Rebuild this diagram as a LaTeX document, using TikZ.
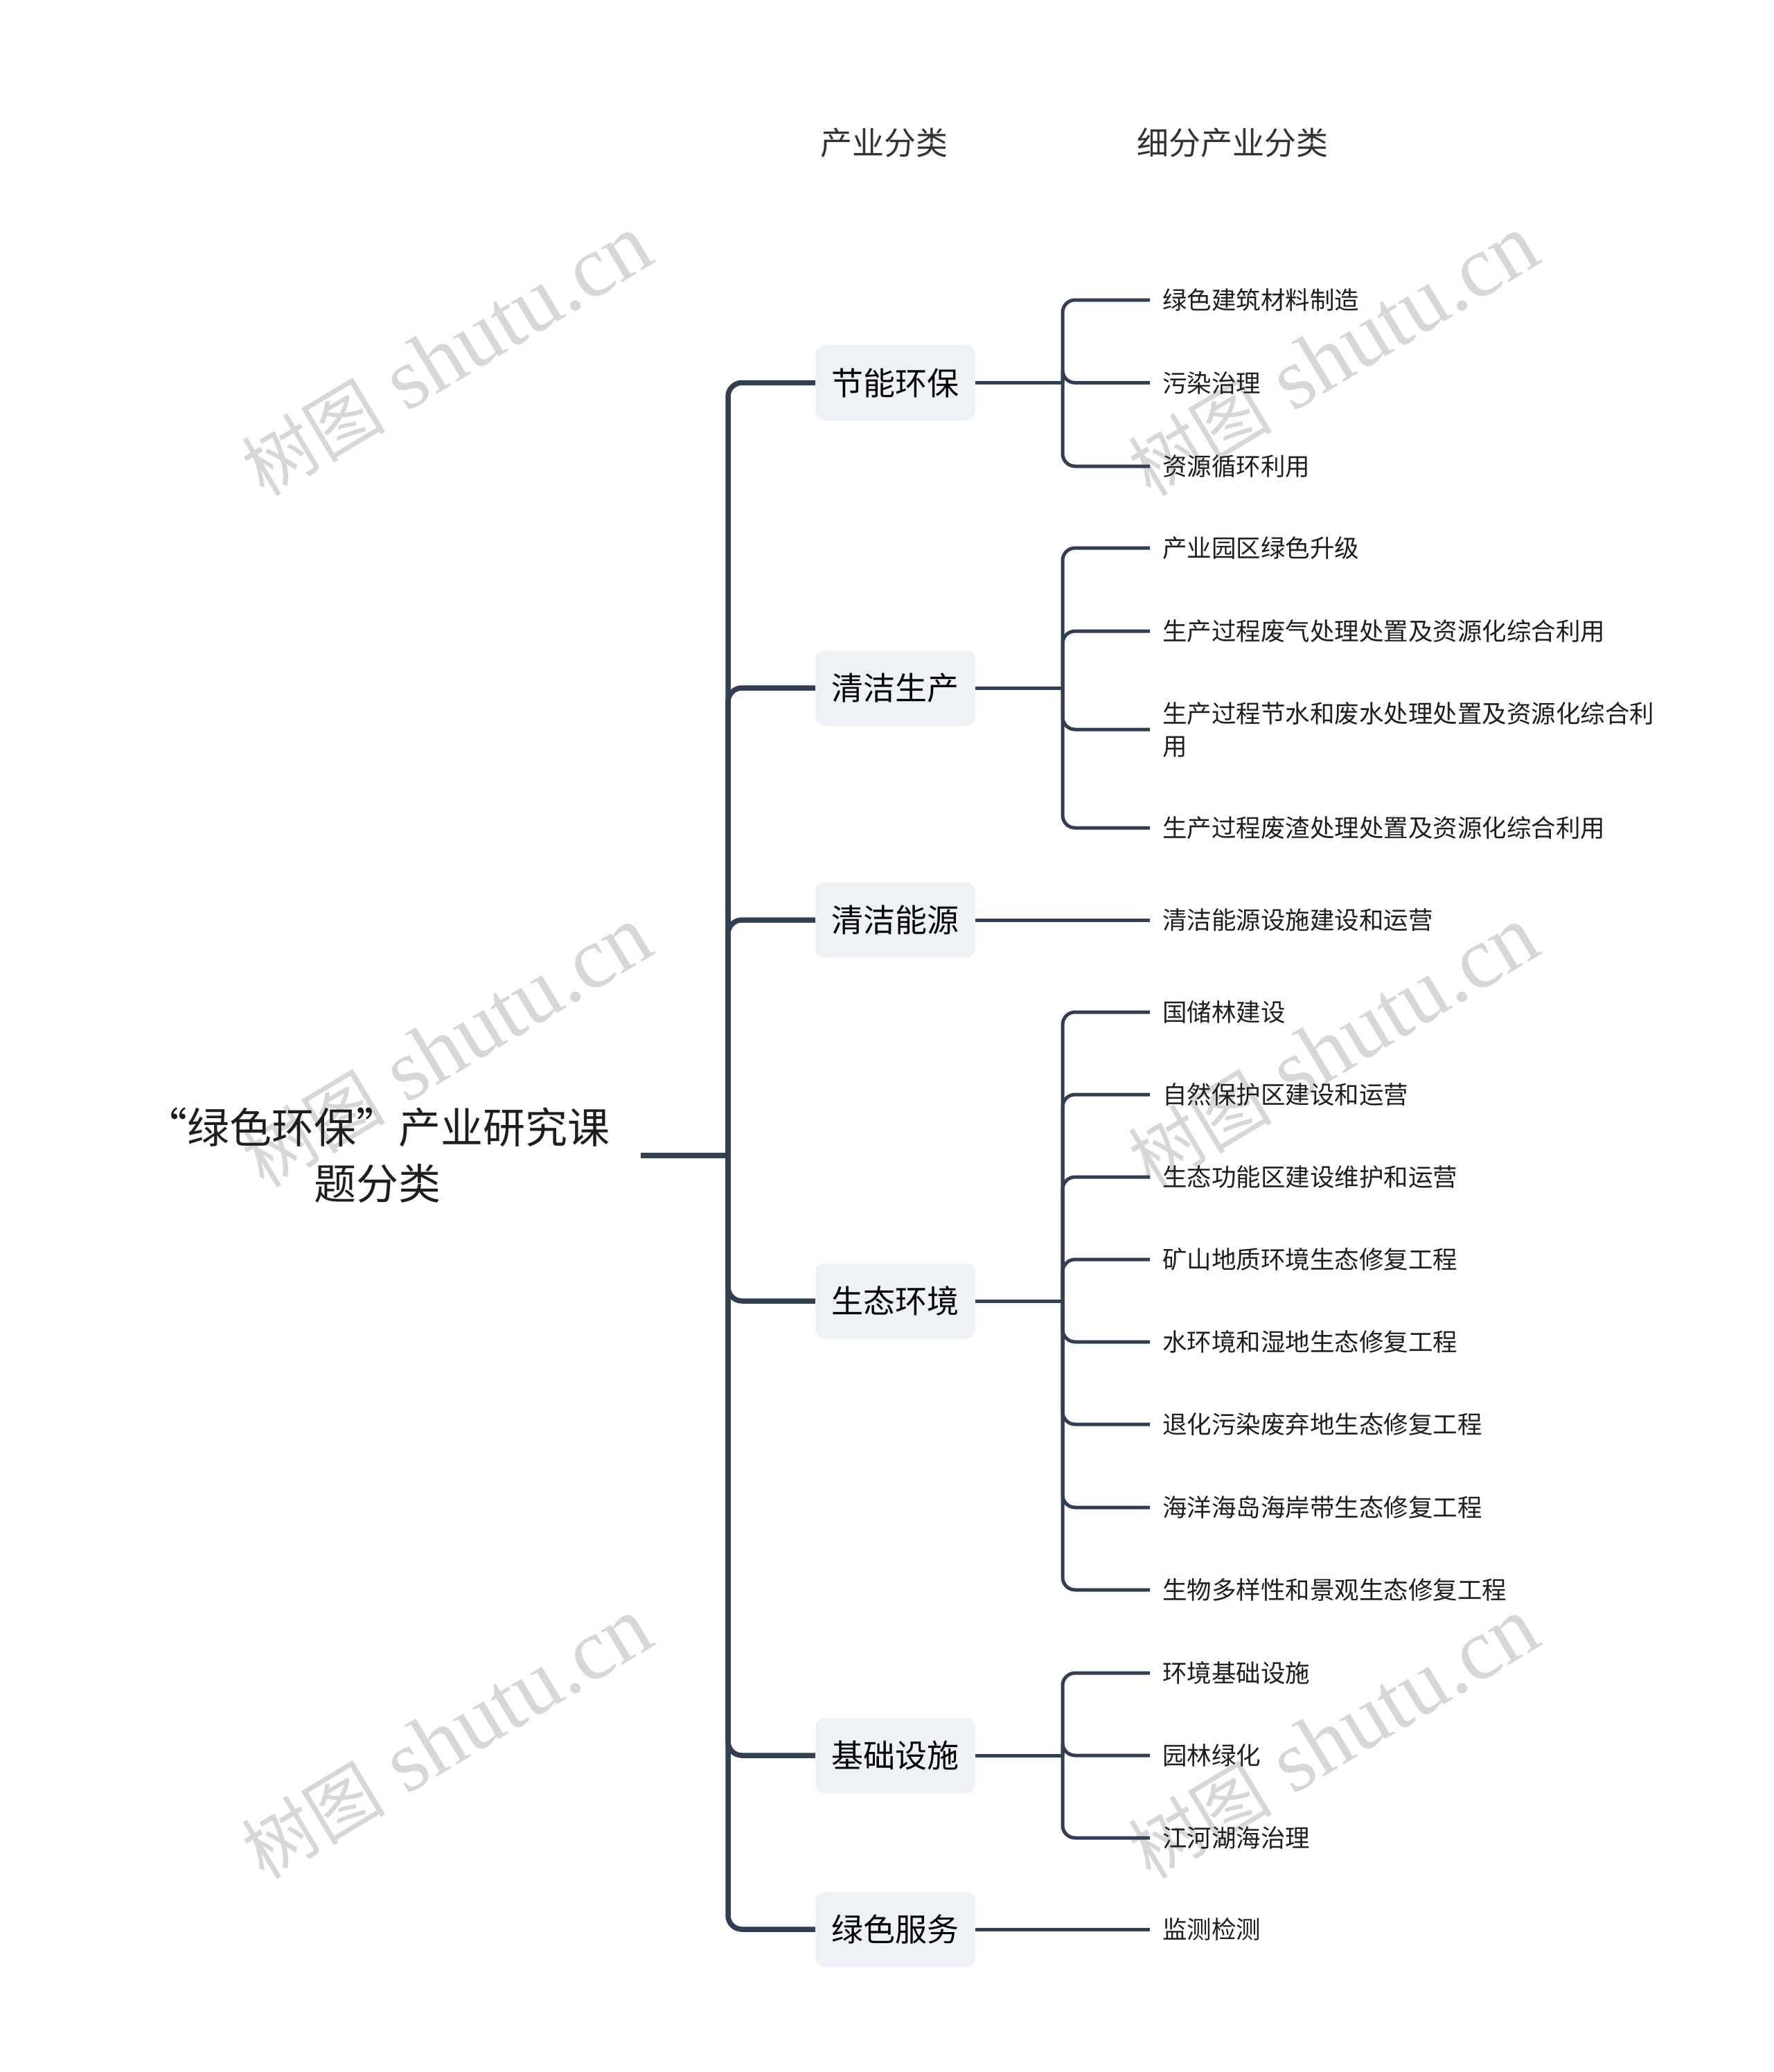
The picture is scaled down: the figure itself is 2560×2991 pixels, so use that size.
\documentclass[tikz,border=0pt]{standalone}
\usepackage{fontspec}
\setmainfont{Noto Sans CJK SC}
\newfontfamily\wmlat{Liberation Serif}
\newfontfamily\wmcjk{Noto Sans CJK SC}
\definecolor{linecol}{HTML}{323F52}
\definecolor{boxfill}{HTML}{EEF1F5}
\definecolor{wmgray}{HTML}{D7D7D7}
\definecolor{txtdark}{HTML}{1E1E1E}
\definecolor{hdrcol}{HTML}{333333}
\begin{document}
\begin{tikzpicture}[x=1pt,y=-1pt,
  trunk/.style={draw=linecol,line width=7.5pt},
  leafline/.style={draw=linecol,line width=5pt},
  branchbox/.style={fill=boxfill,rounded corners=14pt,minimum width=231pt,minimum height=109pt,inner sep=0pt,text=black,font=\fontsize{46}{55}\selectfont},
  leafnode/.style={anchor=west,inner xsep=18pt,inner ysep=0pt,text=txtdark,align=left,font=\fontsize{35.5}{47}\selectfont},
  hdr/.style={text=hdrcol,inner sep=0pt,font=\fontsize{46}{55}\selectfont},
  wm/.style={text=wmgray,inner sep=0pt,rotate=31}
]
\fill[white] (0,0) rectangle (2560,2991);
\path[use as bounding box] (0,0) rectangle (2560,2991);

% watermarks
\foreach \wx/\wy [count=\i] in {645/514,1925/514,645/1512,1925/1512,645/2510,1925/2510}{
  \node[wm] (wm\i) at (\wx,\wy) {\fontsize{104}{110}\wmcjk 树图\fontsize{126}{130}\wmlat\ shutu.cn};
}

% headers
\node[hdr] (h1) at (1276,206) {产业分类};
\node[hdr] (h2) at (1779,206) {细分产业分类};

% root
\node[align=center,inner sep=0pt,minimum width=760pt,text=txtdark,font=\fontsize{61}{81}\selectfont] (root) at (545,1668) {“绿色环保”产业研究课\\题分类};
\coordinate (hub) at (1051,1668);
\draw[trunk] (root.east) -- (hub);

% branches
\node[branchbox] (b1) at (1292.5,552.5) {节能环保};
\node[branchbox] (b2) at (1292.5,993) {清洁生产};
\node[branchbox] (b3) at (1292.5,1328) {清洁能源};
\node[branchbox] (b4) at (1292.5,1878) {生态环境};
\node[branchbox] (b5) at (1292.5,2534) {基础设施};
\node[branchbox] (b6) at (1292.5,2785) {绿色服务};
\foreach \b in {b1,b2,b3,b4,b5,b6}{
  \draw[trunk,rounded corners=20pt] (hub) |- (\b.west);
}

% junctions
\coordinate (j1) at (1534,552.5);
\coordinate (j2) at (1534,993);
\coordinate (j4) at (1534,1878);
\coordinate (j5) at (1534,2534);

% leaves
\node[leafnode] (l11) at (1660,433) {绿色建筑材料制造};
\node[leafnode] (l12) at (1660,552.5) {污染治理};
\node[leafnode] (l13) at (1660,673) {资源循环利用};

\node[leafnode] (l21) at (1660,791) {产业园区绿色升级};
\node[leafnode] (l22) at (1660,911) {生产过程废气处理处置及资源化综合利用};
\node[leafnode] (l23) at (1660,1053) {生产过程节水和废水处理处置及资源化综合利\\用};
\node[leafnode] (l24) at (1660,1195) {生产过程废渣处理处置及资源化综合利用};

\node[leafnode] (l31) at (1660,1328) {清洁能源设施建设和运营};

\node[leafnode] (l41) at (1660,1461) {国储林建设};
\node[leafnode] (l42) at (1660,1580) {自然保护区建设和运营};
\node[leafnode] (l43) at (1660,1699) {生态功能区建设维护和运营};
\node[leafnode] (l44) at (1660,1818) {矿山地质环境生态修复工程};
\node[leafnode] (l45) at (1660,1937) {水环境和湿地生态修复工程};
\node[leafnode] (l46) at (1660,2056) {退化污染废弃地生态修复工程};
\node[leafnode] (l47) at (1660,2176) {海洋海岛海岸带生态修复工程};
\node[leafnode] (l48) at (1660,2295) {生物多样性和景观生态修复工程};

\node[leafnode] (l51) at (1660,2415) {环境基础设施};
\node[leafnode] (l52) at (1660,2534) {园林绿化};
\node[leafnode] (l53) at (1660,2653) {江河湖海治理};

\node[leafnode] (l61) at (1660,2785) {监测检测};

% leaf connectors
\draw[leafline] (b1.east) -- (j1);
\foreach \l in {l11,l12,l13}{\draw[leafline,rounded corners=18pt] (j1) |- (\l.west);}
\draw[leafline] (b2.east) -- (j2);
\foreach \l in {l21,l22,l23,l24}{\draw[leafline,rounded corners=18pt] (j2) |- (\l.west);}
\draw[leafline] (b3.east) -- (l31.west);
\draw[leafline] (b4.east) -- (j4);
\foreach \l in {l41,l42,l43,l44,l45,l46,l47,l48}{\draw[leafline,rounded corners=18pt] (j4) |- (\l.west);}
\draw[leafline] (b5.east) -- (j5);
\foreach \l in {l51,l52,l53}{\draw[leafline,rounded corners=18pt] (j5) |- (\l.west);}
\draw[leafline] (b6.east) -- (l61.west);
\end{tikzpicture}
\end{document}
